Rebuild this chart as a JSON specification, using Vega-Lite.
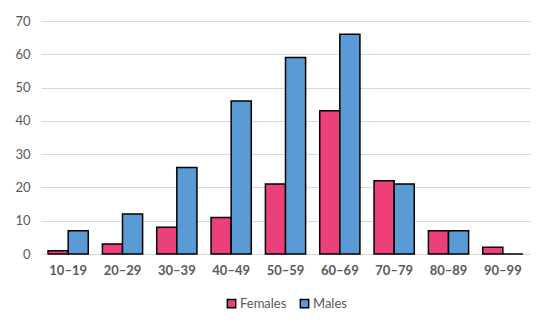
{
  "$schema": "https://vega.github.io/schema/vega-lite/v6.json",
  "autosize": {"type": "none"},
  "width": 489,
  "height": 233,
  "padding": {"left": 41, "top": 21, "right": 20, "bottom": 75},
  "background": "white",
  "data": {"values": [
    {"age": "10–19", "sex": "Females", "count": 1},
    {"age": "10–19", "sex": "Males", "count": 7},
    {"age": "20–29", "sex": "Females", "count": 3},
    {"age": "20–29", "sex": "Males", "count": 12},
    {"age": "30–39", "sex": "Females", "count": 8},
    {"age": "30–39", "sex": "Males", "count": 26},
    {"age": "40–49", "sex": "Females", "count": 11},
    {"age": "40–49", "sex": "Males", "count": 46},
    {"age": "50–59", "sex": "Females", "count": 21},
    {"age": "50–59", "sex": "Males", "count": 59},
    {"age": "60–69", "sex": "Females", "count": 43},
    {"age": "60–69", "sex": "Males", "count": 66},
    {"age": "70–79", "sex": "Females", "count": 22},
    {"age": "70–79", "sex": "Males", "count": 21},
    {"age": "80–89", "sex": "Females", "count": 7},
    {"age": "80–89", "sex": "Males", "count": 7},
    {"age": "90–99", "sex": "Females", "count": 2},
    {"age": "90–99", "sex": "Males", "count": 0}
  ]},
  "mark": {"type": "bar", "stroke": "#000000", "strokeWidth": 1.5},
  "encoding": {
    "x": {
      "field": "age", "type": "nominal", "sort": null,
      "scale": {"paddingInner": 0.26, "paddingOuter": 0.13},
      "axis": {"title": null, "labelAngle": 0, "ticks": false, "domainColor": "#D9D9D9", "domainWidth": 1,
        "labelFont": "Lato", "labelFontSize": 13, "labelFontWeight": "bold", "labelColor": "#595959", "labelPadding": 10}
    },
    "xOffset": {"field": "sex", "type": "nominal", "scale": {"paddingInner": 0}},
    "y": {
      "field": "count", "type": "quantitative",
      "scale": {"domain": [0, 70]},
      "axis": {"title": null, "values": [0,10,20,30,40,50,60,70], "domain": false, "ticks": false,
        "gridColor": "#D9D9D9", "gridWidth": 1, "labelFont": "Lato", "labelFontSize": 13,
        "labelColor": "#595959", "labelPadding": 11}
    },
    "fill": {
      "field": "sex", "type": "nominal",
      "scale": {"domain": ["Females", "Males"], "range": ["#EC407A", "#5B9BD5"]},
      "legend": {"title": null, "orient": "bottom", "direction": "horizontal", "symbolType": "square",
        "symbolStrokeColor": "#000000", "symbolStrokeWidth": 1.5, "symbolSize": 70,
        "labelFont": "Lato", "labelFontSize": 13, "labelColor": "#595959", "columnPadding": 10, "labelOffset": 2, "offset": 20}
    }
  },
  "config": {"view": {"stroke": null}, "legend": {"layout": {"bottom": {"anchor": "middle"}}}}
}
